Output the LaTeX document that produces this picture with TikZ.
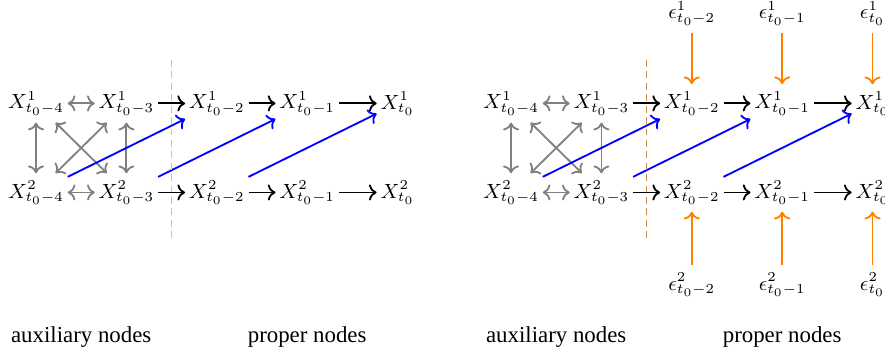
\documentclass[tikz,border=0pt]{standalone}
\usepackage[no-math]{fontspec}
\setmainfont{Liberation Serif}
\usetikzlibrary{arrows.meta}
\newcommand{\DX}{1.39}
\newcommand{\XO}{0.554}
\newcommand{\YU}{3.90}
\newcommand{\YL}{2.53}
\newcommand{\PS}{7.305}
\definecolor{cutlight}{RGB}{230,185,140}
\definecolor{cutdark}{RGB}{205,140,80}
\definecolor{noiseor}{RGB}{255,128,0}

\begin{document}
\begin{tikzpicture}[
    var/.style={font=\small, inner xsep=1.5pt, inner ysep=3pt},
    mutual/.style={<->, draw=gray, thick},
    lag/.style={->, draw=black, thick},
    cross/.style={->, draw=blue, thick},
    noise/.style={->, draw=noiseor, thick},
    cut/.style={densely dashed},
    tag/.style={font=\normalsize},
  ]
  \clip (0,0) rectangle (13.61,5.49);

  %% ================= both panels: the two chains =================
  \foreach \p/\sh/\cc/\cw in {a/0/cutlight/0.65pt, b/\PS/cutdark/0.45pt} {
    \begin{scope}[xshift={\sh cm}]
      \foreach \r/\y in {1/\YU, 2/\YL} {
        \foreach \k in {0,...,4} {
          \pgfmathtruncatemacro{\c}{4-\k}
          \node[var] (\p x\r\k) at ({\XO+\k*\DX},\y)
            {\ifnum\c=0 $X^{\r}_{t_0}$\else $X^{\r}_{t_0-\c}$\fi};
        }
      }

      % auxiliary nodes are tied in both directions
      \foreach \r in {1,2} { \draw[mutual] (\p x\r0) -- (\p x\r1); }
      \foreach \k in {0,1} { \draw[mutual] (\p x1\k) -- (\p x2\k); }
      \draw[mutual] (\p x10) -- (\p x21);
      \draw[mutual] (\p x20) -- (\p x11);

      % proper nodes follow the recursion
      \foreach \r in {1,2} {
        \foreach \k [evaluate=\k as \n using int(\k+1)] in {1,2,3} {
          \draw[lag] (\p x\r\k) -- (\p x\r\n);
        }
      }
      \foreach \k [evaluate=\k as \n using int(\k+2)] in {0,1,2} {
        \draw[cross] (\p x2\k) -- (\p x1\n);
      }

      \draw[cut, \cc, line width=\cw] ({\XO+1.5*\DX},4.568) -- ({\XO+1.5*\DX},1.80);

      \node[tag] (\p aux)  at ({\XO+0.5*\DX},0.31) {auxiliary nodes};
      \node[tag] (\p prop) at ({\XO+3*\DX},0.31)   {proper nodes};
    \end{scope}
  }

  %% ================= panel (b): the noise inputs =================
  \begin{scope}[xshift={\PS cm}]
    \foreach \k in {2,3,4} {
      \pgfmathtruncatemacro{\c}{4-\k}
      \node[var] (e1\k) at ({\XO+\k*\DX},{\YU+1.385})
        {\ifnum\c=0 $\epsilon^{1}_{t_0}$\else $\epsilon^{1}_{t_0-\c}$\fi};
      \node[var] (e2\k) at ({\XO+\k*\DX},{\YL-1.415})
        {\ifnum\c=0 $\epsilon^{2}_{t_0}$\else $\epsilon^{2}_{t_0-\c}$\fi};
      \draw[noise] (e1\k) -- (bx1\k);
      \draw[noise] (e2\k) -- (bx2\k);
    }
  \end{scope}

\end{tikzpicture}
\end{document}
